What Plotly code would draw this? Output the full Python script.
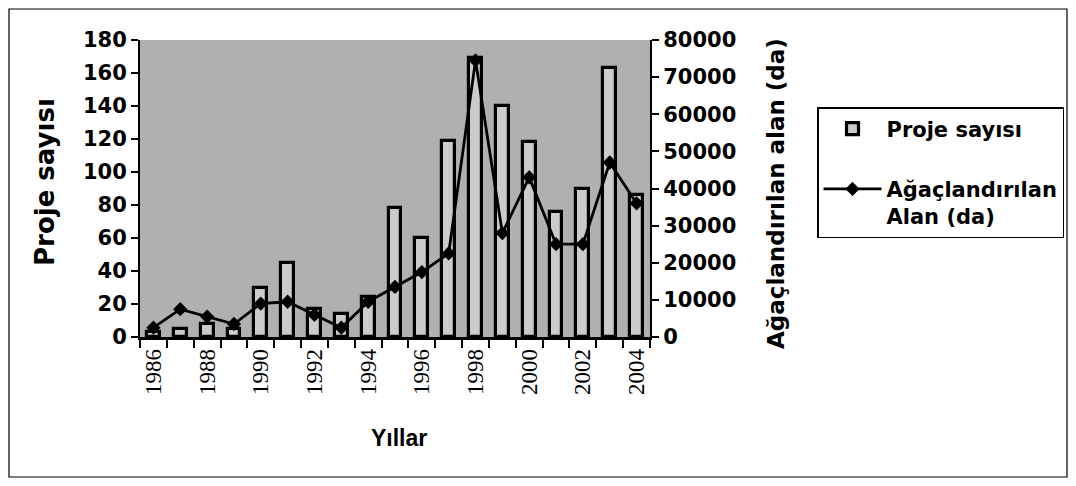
import plotly.graph_objects as go

# ---- data ----
years = list(range(1986, 2005))
proje_sayisi = [3, 5, 8, 5, 30, 45, 17, 14, 24, 78, 60, 119, 169, 140, 118, 76, 90, 163, 86]
alan_da = [2500, 7500, 5500, 3500, 9000, 9500, 6000, 2500, 9500, 13500, 17500, 22500,
           74500, 28000, 43000, 25000, 25000, 47000, 36000]
x_tick_years = list(range(1986, 2005, 2))
x_tick_labels = [str(y) for y in x_tick_years]

# ---- layout geometry (window pixels; the page body adds an 8px offset) ----
OFF = 8
W, H = 1076 - 2 * OFF, 486 - 2 * OFF
L, T = 140 - OFF, 40 - OFF
PLOT_RIGHT, PLOT_BOTTOM = 650 - OFF, 337 - OFF
R, B = W - PLOT_RIGHT, H - PLOT_BOTTOM
PW, PH = W - L - R, H - T - B


def px_x(px):
    return (px - OFF - L) / PW


def px_y(py):
    return (PLOT_BOTTOM - (py - OFF)) / PH


def cx(px):
    return (px - OFF) / W


def cy(py):
    return 1 - (py - OFF) / H


BOLD = dict(family="DejaVu Sans", color="black", weight="bold")

fig = go.Figure()
fig.add_trace(go.Bar(
    x=years, y=proje_sayisi, name="Proje sayısı", yaxis="y",
    width=0.48, legendgroup="a",
    marker=dict(color="#cbcbcb", line=dict(color="black", width=3.2)),
))
fig.add_trace(go.Scatter(
    x=years, y=alan_da, name="Ağaçlandırılan<br>Alan (da)", yaxis="y2",
    mode="lines+markers", legendgroup="b",
    line=dict(color="black", width=2.8),
    marker=dict(symbol="diamond", size=11, color="black"),
))

axis_common = dict(showgrid=False, zeroline=False, showline=True, linecolor="black",
                   linewidth=2, ticks="outside", ticklen=7, tickcolor="black",
                   tickwidth=1.5, tickfont=dict(size=21, **BOLD))

fig.update_layout(
    width=W, height=H, autosize=False,
    margin=dict(l=L, r=R, t=T, b=B, pad=0, autoexpand=False),
    paper_bgcolor="white", plot_bgcolor="#b0b0b0",
    font=dict(family="DejaVu Sans", color="black"),
    bargap=0,
    xaxis=dict(
        range=[1985.5, 2004.5], tickmode="array", tickvals=x_tick_years,
        ticktext=x_tick_labels, tickangle=-90, ticks="",
        tickfont=dict(family="Liberation Serif", size=23, color="black"),
        showline=True, linecolor="black", linewidth=2.5, showgrid=False, zeroline=False,
        minor=dict(ticks="outside", tick0=1985.5, dtick=1, ticklen=8,
                   tickcolor="black", tickwidth=1.5, showgrid=False),
    ),
    yaxis=dict(range=[0, 180], dtick=20, **axis_common),
    yaxis2=dict(range=[0, 80000], dtick=10000, overlaying="y", side="right",
                tickformat="d", **axis_common),
    legend=dict(
        xref="container", yref="container",
        x=cx(817), xanchor="left", y=cy(107), yanchor="top",
        bordercolor="black", borderwidth=1.5, bgcolor="white",
        font=dict(size=21, **BOLD), itemwidth=58,
        traceorder="grouped", tracegroupgap=30, valign="top",
    ),
    shapes=[dict(type="rect", xref="paper", yref="paper",
                 x0=px_x(9), x1=px_x(1067), y0=px_y(477), y1=px_y(9),
                 line=dict(color="black", width=1.2), fillcolor="rgba(0,0,0,0)",
                 layer="below")],
    annotations=[
        dict(text="Proje sayısı", xref="paper", yref="paper", x=px_x(45), y=px_y(182),
             xanchor="center", yanchor="middle",
             textangle=-90, showarrow=False, font=dict(size=26, **BOLD)),
        dict(text="Ağaçlandırılan alan (da)", xref="paper", yref="paper",
             x=px_x(776), y=px_y(194), xanchor="center", yanchor="middle",
             textangle=-90, showarrow=False, font=dict(size=23, **BOLD)),
        dict(text="Yıllar", xref="paper", yref="paper", x=px_x(399), y=px_y(438),
             xanchor="center", yanchor="middle", showarrow=False,
             font=dict(size=23, family="Liberation Sans", color="black", weight="bold")),
    ],
)

fig.write_html("out.html")
